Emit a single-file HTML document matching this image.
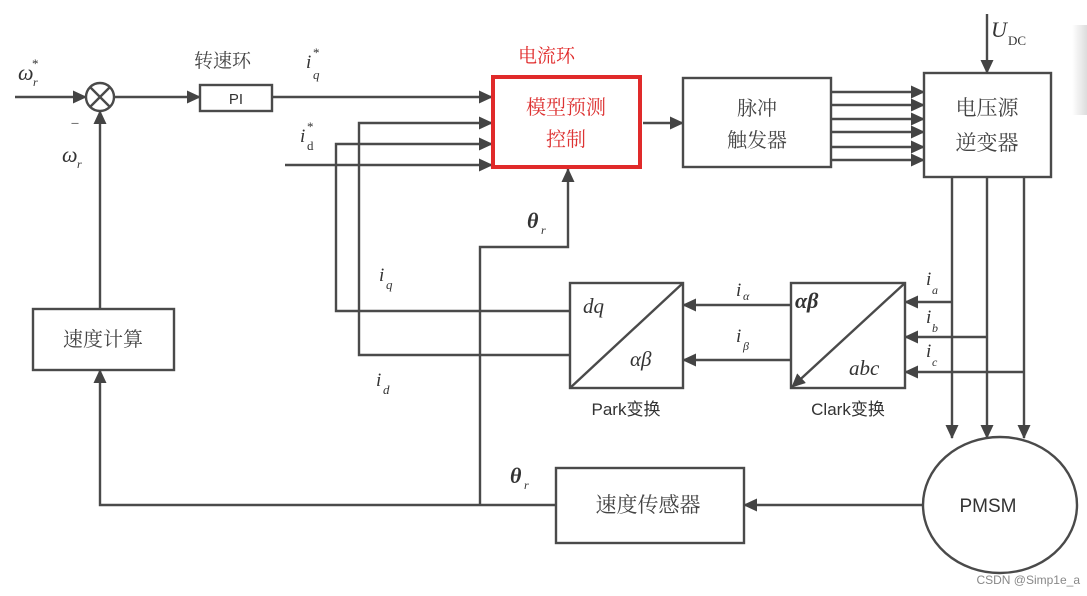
<!DOCTYPE html>
<html><head><meta charset="utf-8"><style>
html,body{margin:0;padding:0;background:#fff;}
svg{display:block;}
text{font-family:"Liberation Serif","Noto Serif CJK SC",serif;fill:#333;}
.cn{font-family:"Liberation Serif","Noto Serif CJK SC",serif;fill:#444;}
.sn{font-family:"Liberation Sans","Noto Sans CJK SC",sans-serif;fill:#333;}
.it{font-style:italic;font-family:"Liberation Serif",serif;}
</style></head><body>
<svg width="1087" height="596" viewBox="0 0 1087 596" xmlns="http://www.w3.org/2000/svg">
<defs>
<marker id="a" markerWidth="14" markerHeight="14" refX="13" refY="6.5" orient="auto" markerUnits="userSpaceOnUse">
<path d="M0,0 L14,6.5 L0,13 Z" fill="#444"/></marker>
<linearGradient id="g" x1="0" x2="1"><stop offset="0" stop-color="#fff"/><stop offset="1" stop-color="#ddd"/></linearGradient>
</defs>
<rect x="1072" y="25" width="15" height="90" fill="url(#g)"/>
<g stroke="#4a4a4a" stroke-width="2.4" fill="none">
<line x1="15" y1="97" x2="86" y2="97" marker-end="url(#a)"/>
<circle cx="100" cy="97" r="14" fill="#fff"/>
<line x1="90" y1="87" x2="110" y2="107"/><line x1="110" y1="87" x2="90" y2="107"/>
<line x1="114" y1="97" x2="200" y2="97" marker-end="url(#a)"/>
<rect x="200" y="85" width="72" height="26" fill="#fff"/>
<line x1="272" y1="97" x2="492" y2="97" marker-end="url(#a)"/>
<polyline points="570,355 359,355 359,123 492,123" marker-end="url(#a)"/>
<polyline points="570,311 336,311 336,144 492,144" marker-end="url(#a)"/>
<line x1="285" y1="165" x2="492" y2="165" marker-end="url(#a)"/>
<polyline points="480,505 480,247 568,247 568,169" marker-end="url(#a)"/>
<line x1="643" y1="123" x2="683" y2="123" marker-end="url(#a)"/>
<rect x="683" y="78" width="148" height="89" fill="#fff"/>
<line x1="831" y1="92" x2="924" y2="92" marker-end="url(#a)"/>
<line x1="831" y1="105" x2="924" y2="105" marker-end="url(#a)"/>
<line x1="831" y1="119" x2="924" y2="119" marker-end="url(#a)"/>
<line x1="831" y1="132" x2="924" y2="132" marker-end="url(#a)"/>
<line x1="831" y1="147" x2="924" y2="147" marker-end="url(#a)"/>
<line x1="831" y1="160" x2="924" y2="160" marker-end="url(#a)"/>
<rect x="924" y="73" width="127" height="104" fill="#fff"/>
<line x1="987" y1="14" x2="987" y2="73" marker-end="url(#a)"/>
<line x1="952" y1="177" x2="952" y2="438" marker-end="url(#a)"/>
<line x1="987" y1="177" x2="987" y2="438" marker-end="url(#a)"/>
<line x1="1024" y1="177" x2="1024" y2="438" marker-end="url(#a)"/>
<line x1="952" y1="302" x2="905" y2="302" marker-end="url(#a)"/>
<line x1="987" y1="337" x2="905" y2="337" marker-end="url(#a)"/>
<line x1="1024" y1="372" x2="905" y2="372" marker-end="url(#a)"/>
<rect x="791" y="283" width="114" height="105" fill="#fff"/>
<line x1="905" y1="283" x2="792" y2="387" marker-end="url(#a)"/>
<line x1="791" y1="305" x2="683" y2="305" marker-end="url(#a)"/>
<line x1="791" y1="360" x2="683" y2="360" marker-end="url(#a)"/>
<rect x="570" y="283" width="113" height="105" fill="#fff"/>
<line x1="683" y1="283" x2="570" y2="388"/>
<rect x="33" y="309" width="141" height="61" fill="#fff"/>
<line x1="100" y1="309" x2="100" y2="111" marker-end="url(#a)"/>
<polyline points="556,505 100,505 100,370" marker-end="url(#a)"/>
<rect x="556" y="468" width="188" height="75" fill="#fff"/>
<line x1="923" y1="505" x2="744" y2="505" marker-end="url(#a)"/>
<ellipse cx="1000" cy="505" rx="77" ry="68" fill="#fff"/>
</g>
<rect x="493" y="77" width="147" height="90" fill="#fff" stroke="#e02a2a" stroke-width="4"/>
<text x="18" y="80" class="it" font-size="22">ω</text><text x="32" y="68" font-size="13">*</text><text x="33" y="86" class="it" font-size="12">r</text>
<text x="72" y="137" font-size="18">‾</text>
<text x="62" y="162" class="it" font-size="22">ω</text><text x="77" y="168" class="it" font-size="12">r</text>
<text x="194" y="67" class="cn" font-size="19">转速环</text>
<text x="236" y="104" class="sn" font-size="15" text-anchor="middle">PI</text>
<text x="306" y="68" class="it" font-size="19">i</text><text x="313" y="79" class="it" font-size="13">q</text><text x="313" y="57" font-size="13">*</text>
<text x="300" y="142" class="it" font-size="19">i</text><text x="307" y="150" font-size="13">d</text><text x="307" y="131" font-size="13">*</text>
<text x="518" y="62" class="cn" font-size="19" style="fill:#e02a2a">电流环</text>
<text x="566" y="114" class="cn" font-size="20" text-anchor="middle" style="fill:#d33">模型预测</text>
<text x="566" y="146" class="cn" font-size="20" text-anchor="middle" style="fill:#d33">控制</text>
<text x="757" y="115" class="cn" font-size="20" text-anchor="middle">脉冲</text>
<text x="757" y="147" class="cn" font-size="20" text-anchor="middle">触发器</text>
<text x="987" y="115" class="cn" font-size="21" text-anchor="middle">电压源</text>
<text x="987" y="150" class="cn" font-size="21" text-anchor="middle">逆变器</text>
<text x="991" y="37" class="it" font-size="22">U</text><text x="1008" y="45" font-family="Liberation Mono" font-size="13">DC</text>
<text x="527" y="228" class="it" font-size="22" font-weight="bold">θ</text><text x="541" y="234" class="it" font-size="12">r</text>
<text x="379" y="281" class="it" font-size="19">i</text><text x="386" y="289" class="it" font-size="13">q</text>
<text x="376" y="386" class="it" font-size="19">i</text><text x="383" y="394" class="it" font-size="13">d</text>
<text x="583" y="313" class="it" font-size="21">dq</text>
<text x="630" y="366" class="it" font-size="21">αβ</text>
<text x="626" y="415" class="sn" font-size="17" text-anchor="middle">Park变换</text>
<text x="795" y="308" class="it" font-size="22" font-weight="bold">αβ</text>
<text x="849" y="375" class="it" font-size="21">abc</text>
<text x="848" y="415" class="sn" font-size="17" text-anchor="middle">Clark变换</text>
<text x="736" y="296" class="it" font-size="19">i</text><text x="743" y="300" class="it" font-size="12">α</text>
<text x="736" y="342" class="it" font-size="19">i</text><text x="743" y="350" class="it" font-size="12">β</text>
<text x="926" y="285" class="it" font-size="19">i</text><text x="932" y="294" class="it" font-size="12">a</text>
<text x="926" y="323" class="it" font-size="19">i</text><text x="932" y="332" class="it" font-size="12">b</text>
<text x="926" y="357" class="it" font-size="19">i</text><text x="932" y="366" class="it" font-size="12">c</text>
<text x="103" y="346" class="cn" font-size="20" text-anchor="middle">速度计算</text>
<text x="510" y="483" class="it" font-size="22" font-weight="bold">θ</text><text x="524" y="489" class="it" font-size="12">r</text>
<text x="648" y="512" class="cn" font-size="21" text-anchor="middle">速度传感器</text>
<text x="988" y="512" class="sn" font-size="19" text-anchor="middle">PMSM</text>
<text x="1080" y="584" class="sn" font-size="12" text-anchor="end" style="fill:#888">CSDN @Simp1e_a</text>
</svg>
</body></html>
